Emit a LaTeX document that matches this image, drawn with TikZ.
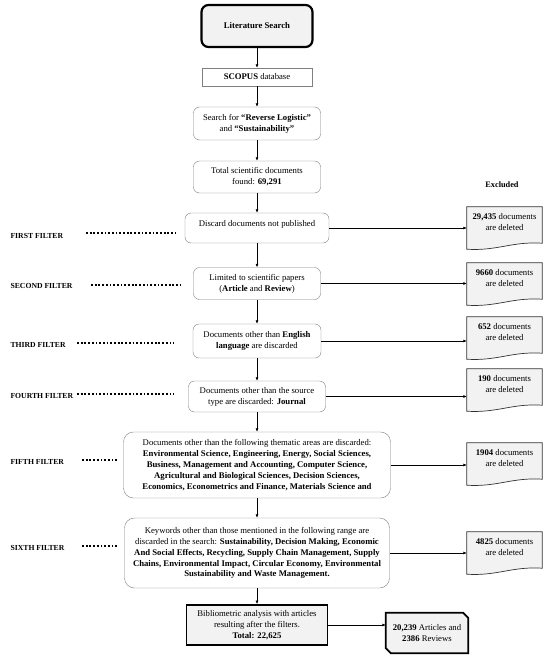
\documentclass[tikz,border=0pt]{standalone}
\usepackage{fontspec}
\setmainfont{Liberation Serif}
\usetikzlibrary{arrows.meta, backgrounds}
\definecolor{boxgray}{HTML}{F2F2F2}
\definecolor{edgegray}{HTML}{7F7F7F}

\begin{document}
\begin{tikzpicture}[x=1pt, y=-1pt,
	font=\fontsize{8.7}{10.9}\selectfont,
	stage/.style={draw=edgegray, rounded corners=6pt, fill=white, align=center, inner sep=2pt},
	start/.style={draw, line width=2.2pt, rounded corners=7pt, fill=boxgray, align=center},
	plain/.style={draw=edgegray, fill=white, align=center, inner sep=2pt},
	result/.style={draw, line width=1.8pt, fill=boxgray, align=center},
	excl/.style={align=center, inner sep=1pt},
	docline/.style={draw=black!80, fill=boxgray, line width=0.7pt},
	filter/.style={anchor=west, font=\fontsize{7.7}{9}\selectfont\bfseries},
	dotline/.style={line width=1.8pt, dash pattern=on 1.8pt off 1.9pt},
	link/.style={-{Latex[length=3.5pt,width=3pt]}, line width=0.6pt}]
	\useasboundingbox (0,0) rectangle (550,659);

	% main column
	\node [start, minimum width=111pt, minimum height=42pt] (lit) at (257,26) {\textbf{Literature Search}};
	\node [plain, minimum width=110pt, minimum height=18pt] (scopus) at (257,77) {\textbf{SCOPUS} database};
	\node [stage, minimum width=127pt, minimum height=33pt] (search) at (257,123.5) {Search for \textbf{``Reverse Logistic''}\\and \textbf{``Sustainability''}};
	\node [stage, minimum width=127pt, minimum height=32pt] (total) at (257,177) {Total scientific documents\\found: \textbf{69,291}};
	\node [stage, minimum width=144pt, minimum height=30pt, text depth=9pt] (discard) at (257,228) {Discard documents not published};
	\node [stage, minimum width=127pt, minimum height=32pt] (papers) at (257,283.5) {Limited to scientific papers\\(\textbf{Article} and \textbf{Review})};
	\node [stage, minimum width=128pt, minimum height=34pt] (language) at (257,341) {Documents other than \textbf{English}\\\textbf{language} are discarded};
	\node [stage, minimum width=137pt, minimum height=31pt] (source) at (257,396.5) {Documents other than the source\\type are discarded: \textbf{Journal}};
	\node [stage, rounded corners=10pt, minimum width=267pt, minimum height=66pt] (areas) at (257,465) {Documents other than the following thematic areas are discarded:\\
		\textbf{Environmental Science, Engineering, Energy, Social Sciences,}\\
		\textbf{Business, Management and Accounting, Computer Science,}\\
		\textbf{Agricultural and Biological Sciences, Decision Sciences,}\\
		\textbf{Economics, Econometrics and Finance, Materials Science and}};
	\node [stage, rounded corners=10pt, minimum width=265pt, minimum height=70pt] (keywords) at (257,553) {Keywords other than those mentioned in the following range are\\
		discarded in the search: \textbf{Sustainability, Decision Making, Economic}\\
		\textbf{And Social Effects, Recycling, Supply Chain Management, Supply}\\
		\textbf{Chains, Environmental Impact, Circular Economy, Environmental}\\
		\textbf{Sustainability and Waste Management.}};
	\node [result, minimum width=141pt, minimum height=40pt] (biblio) at (257,625) {Bibliometric analysis with articles\\resulting after the filters.\\\textbf{Total: 22,625}};

	% excluded column
	\node [font=\fontsize{8.3}{9}\selectfont\bfseries] (excluded) at (502,185) {Excluded};
	\node [excl, minimum width=75pt, minimum height=30pt] (del1) at (504.5,222) {\textbf{29,435} documents\\are deleted};
	\node [excl, minimum width=75pt, minimum height=30pt] (del2) at (504.5,278) {\textbf{9660} documents\\are deleted};
	\node [excl, minimum width=75pt, minimum height=30pt] (del3) at (504.5,332) {\textbf{652} documents\\are deleted};
	\node [excl, minimum width=75pt, minimum height=30pt] (del4) at (504.5,384) {\textbf{190} documents\\are deleted};
	\node [excl, minimum width=75pt, minimum height=30pt] (del5) at (504.5,458) {\textbf{1904} documents\\are deleted};
	\node [excl, minimum width=75pt, minimum height=30pt] (del6) at (504.5,547) {\textbf{4825} documents\\are deleted};
	\node [excl, minimum width=82pt, minimum height=40pt] (split) at (427,633) {\textbf{20,239} Articles and\\\textbf{2386} Reviews};

	% filter labels
	\node [filter] (f1) at (7,236) {FIRST FILTER};
	\node [filter] (f2) at (7,286) {SECOND FILTER};
	\node [filter] (f3) at (7,345) {THIRD FILTER};
	\node [filter] (f4) at (7,396) {FOURTH FILTER};
	\node [filter] (f5) at (7,462) {FIFTH FILTER};
	\node [filter] (f6) at (7,548) {SIXTH FILTER};

	\draw [dotline] (86,233) -- (175,233);
	\draw [dotline] (91,285) -- (181,285);
	\draw [dotline] (77,343) -- (174,343);
	\draw [dotline] (77,394) -- (174,394);
	\draw [dotline] (82,460) -- (118,460);
	\draw [dotline] (82,546) -- (118,546);

	% arrows
	\foreach \a/\b in {lit/scopus, scopus/search, search/total, total/discard, discard/papers, papers/language, language/source, source/areas, areas/keywords, keywords/biblio}
		\draw [link] (\a) -- (\b);
	\foreach \a/\b in {discard/del1, papers/del2, language/del3, source/del4, areas/del5, keywords/del6, biblio/split}
		\draw [link] (\a.east) -- (\a.east -| \b.west);

	\begin{scope}[on background layer]
		\foreach \i in {1,...,6}
			\draw [docline] (del\i.north west) -- (del\i.north east) -- ([yshift=-6pt]del\i.south east)
				.. controls ([xshift=-30pt,yshift=-4pt]del\i.south east) and ([xshift=30pt,yshift=-14pt]del\i.south west) .. ([yshift=-12pt]del\i.south west) -- cycle;
		\draw [line width=1.8pt, fill=boxgray] (split.north west) -- ([xshift=-5pt]split.north east) -- ([yshift=-5pt]split.north east)
			-- (split.south east) -- ([xshift=5pt]split.south west) -- ([yshift=5pt]split.south west) -- cycle;
	\end{scope}
\end{tikzpicture}
\end{document}
